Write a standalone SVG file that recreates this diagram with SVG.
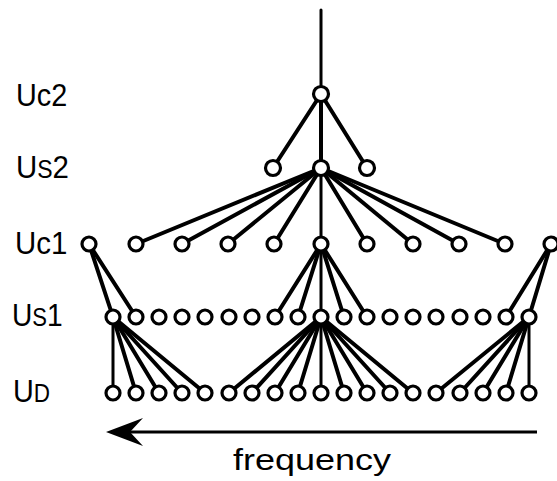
<svg xmlns="http://www.w3.org/2000/svg" width="557" height="481" viewBox="0 0 557 481">
<style>
.n{fill:#fff;stroke:#000;stroke-width:3.2}
.e{stroke:#000;stroke-width:4;stroke-linecap:round;fill:none}
.lbl{font-family:"Liberation Sans",Arial,sans-serif;font-size:32px;fill:#000}
.sc{font-size:25px}
</style>
<rect width="557" height="481" fill="#fff"/>
<g id="connectors" class="e">
<line x1="321" y1="10" x2="321" y2="94" stroke-width="3"/>
<line x1="321" y1="94" x2="273" y2="168"/>
<line x1="321" y1="94" x2="321" y2="168"/>
<line x1="321" y1="94" x2="367" y2="168"/>
<line x1="321" y1="168" x2="136" y2="244"/>
<line x1="321" y1="168" x2="182" y2="244"/>
<line x1="321" y1="168" x2="228" y2="244"/>
<line x1="321" y1="168" x2="274" y2="244"/>
<line x1="321" y1="168" x2="321" y2="244" stroke-width="3"/>
<line x1="321" y1="168" x2="367" y2="244"/>
<line x1="321" y1="168" x2="413" y2="244"/>
<line x1="321" y1="168" x2="459" y2="244"/>
<line x1="321" y1="168" x2="505" y2="244"/>
<line x1="89" y1="244" x2="113" y2="317"/>
<line x1="89" y1="244" x2="136" y2="317"/>
<line x1="321" y1="244" x2="275" y2="317"/>
<line x1="321" y1="244" x2="298" y2="317"/>
<line x1="321" y1="244" x2="321" y2="317" stroke-width="3"/>
<line x1="321" y1="244" x2="344" y2="317"/>
<line x1="321" y1="244" x2="367" y2="317"/>
<line x1="551" y1="244" x2="506" y2="317"/>
<line x1="551" y1="244" x2="529" y2="317"/>
<line x1="113" y1="317" x2="113" y2="393" stroke-width="3"/>
<line x1="113" y1="317" x2="136" y2="393"/>
<line x1="113" y1="317" x2="159" y2="393"/>
<line x1="113" y1="317" x2="182" y2="393"/>
<line x1="113" y1="317" x2="205" y2="393"/>
<line x1="321" y1="317" x2="229" y2="393"/>
<line x1="321" y1="317" x2="252" y2="393"/>
<line x1="321" y1="317" x2="275" y2="393"/>
<line x1="321" y1="317" x2="298" y2="393"/>
<line x1="321" y1="317" x2="321" y2="393" stroke-width="3"/>
<line x1="321" y1="317" x2="344" y2="393"/>
<line x1="321" y1="317" x2="367" y2="393"/>
<line x1="321" y1="317" x2="390" y2="393"/>
<line x1="321" y1="317" x2="413" y2="393"/>
<line x1="529" y1="317" x2="436" y2="393"/>
<line x1="529" y1="317" x2="460" y2="393"/>
<line x1="529" y1="317" x2="483" y2="393"/>
<line x1="529" y1="317" x2="506" y2="393"/>
<line x1="529" y1="317" x2="529" y2="393" stroke-width="3"/>
</g>
<g id="uc2"><circle class="n" cx="321" cy="94" r="7.5"/></g>
<g id="us2">
<circle class="n" cx="273" cy="168" r="7.5"/>
<circle class="n" cx="321" cy="168" r="7.5"/>
<circle class="n" cx="367" cy="168" r="7.5"/>
</g>
<g id="uc1">
<circle class="n" cx="89" cy="244" r="7"/>
<circle class="n" cx="136" cy="244" r="7"/>
<circle class="n" cx="182" cy="244" r="7"/>
<circle class="n" cx="228" cy="244" r="7"/>
<circle class="n" cx="274" cy="244" r="7"/>
<circle class="n" cx="321" cy="244" r="7"/>
<circle class="n" cx="367" cy="244" r="7"/>
<circle class="n" cx="413" cy="244" r="7"/>
<circle class="n" cx="459" cy="244" r="7"/>
<circle class="n" cx="505" cy="244" r="7"/>
<circle class="n" cx="551" cy="244" r="7"/>
</g>
<g id="us1">
<circle class="n" cx="113" cy="317" r="7"/>
<circle class="n" cx="136" cy="317" r="7"/>
<circle class="n" cx="159" cy="317" r="7"/>
<circle class="n" cx="182" cy="317" r="7"/>
<circle class="n" cx="205" cy="317" r="7"/>
<circle class="n" cx="229" cy="317" r="7"/>
<circle class="n" cx="252" cy="317" r="7"/>
<circle class="n" cx="275" cy="317" r="7"/>
<circle class="n" cx="298" cy="317" r="7"/>
<circle class="n" cx="321" cy="317" r="7"/>
<circle class="n" cx="344" cy="317" r="7"/>
<circle class="n" cx="367" cy="317" r="7"/>
<circle class="n" cx="390" cy="317" r="7"/>
<circle class="n" cx="413" cy="317" r="7"/>
<circle class="n" cx="436" cy="317" r="7"/>
<circle class="n" cx="460" cy="317" r="7"/>
<circle class="n" cx="483" cy="317" r="7"/>
<circle class="n" cx="506" cy="317" r="7"/>
<circle class="n" cx="529" cy="317" r="7"/>
</g>
<g id="ud">
<circle class="n" cx="113" cy="393" r="7"/>
<circle class="n" cx="136" cy="393" r="7"/>
<circle class="n" cx="159" cy="393" r="7"/>
<circle class="n" cx="182" cy="393" r="7"/>
<circle class="n" cx="205" cy="393" r="7"/>
<circle class="n" cx="229" cy="393" r="7"/>
<circle class="n" cx="252" cy="393" r="7"/>
<circle class="n" cx="275" cy="393" r="7"/>
<circle class="n" cx="298" cy="393" r="7"/>
<circle class="n" cx="321" cy="393" r="7"/>
<circle class="n" cx="344" cy="393" r="7"/>
<circle class="n" cx="367" cy="393" r="7"/>
<circle class="n" cx="390" cy="393" r="7"/>
<circle class="n" cx="413" cy="393" r="7"/>
<circle class="n" cx="436" cy="393" r="7"/>
<circle class="n" cx="460" cy="393" r="7"/>
<circle class="n" cx="483" cy="393" r="7"/>
<circle class="n" cx="506" cy="393" r="7"/>
<circle class="n" cx="529" cy="393" r="7"/>
</g>
<g id="labels">
<text class="lbl" transform="translate(16,106) scale(0.9,1)">Uc2</text>
<text class="lbl" transform="translate(16,178) scale(0.92,1)">U<tspan class="sc">S</tspan>2</text>
<text class="lbl" transform="translate(15,254) scale(0.92,1)">Uc1</text>
<text class="lbl" transform="translate(12,326) scale(0.88,1)">U<tspan class="sc">S</tspan>1</text>
<text class="lbl" transform="translate(13,402) scale(0.9,1)">U<tspan class="sc">D</tspan></text>
</g>
<g id="frequency-axis">
<line x1="125" y1="432" x2="537" y2="432" stroke="#000" stroke-width="3"/>
<path d="M106,432 L143,418 L130,432 L143,446 Z" fill="#000"/>
<text x="233" y="470" font-family="'Liberation Sans',Arial,sans-serif" font-size="30" textLength="158" lengthAdjust="spacingAndGlyphs">frequency</text>
</g>
</svg>
